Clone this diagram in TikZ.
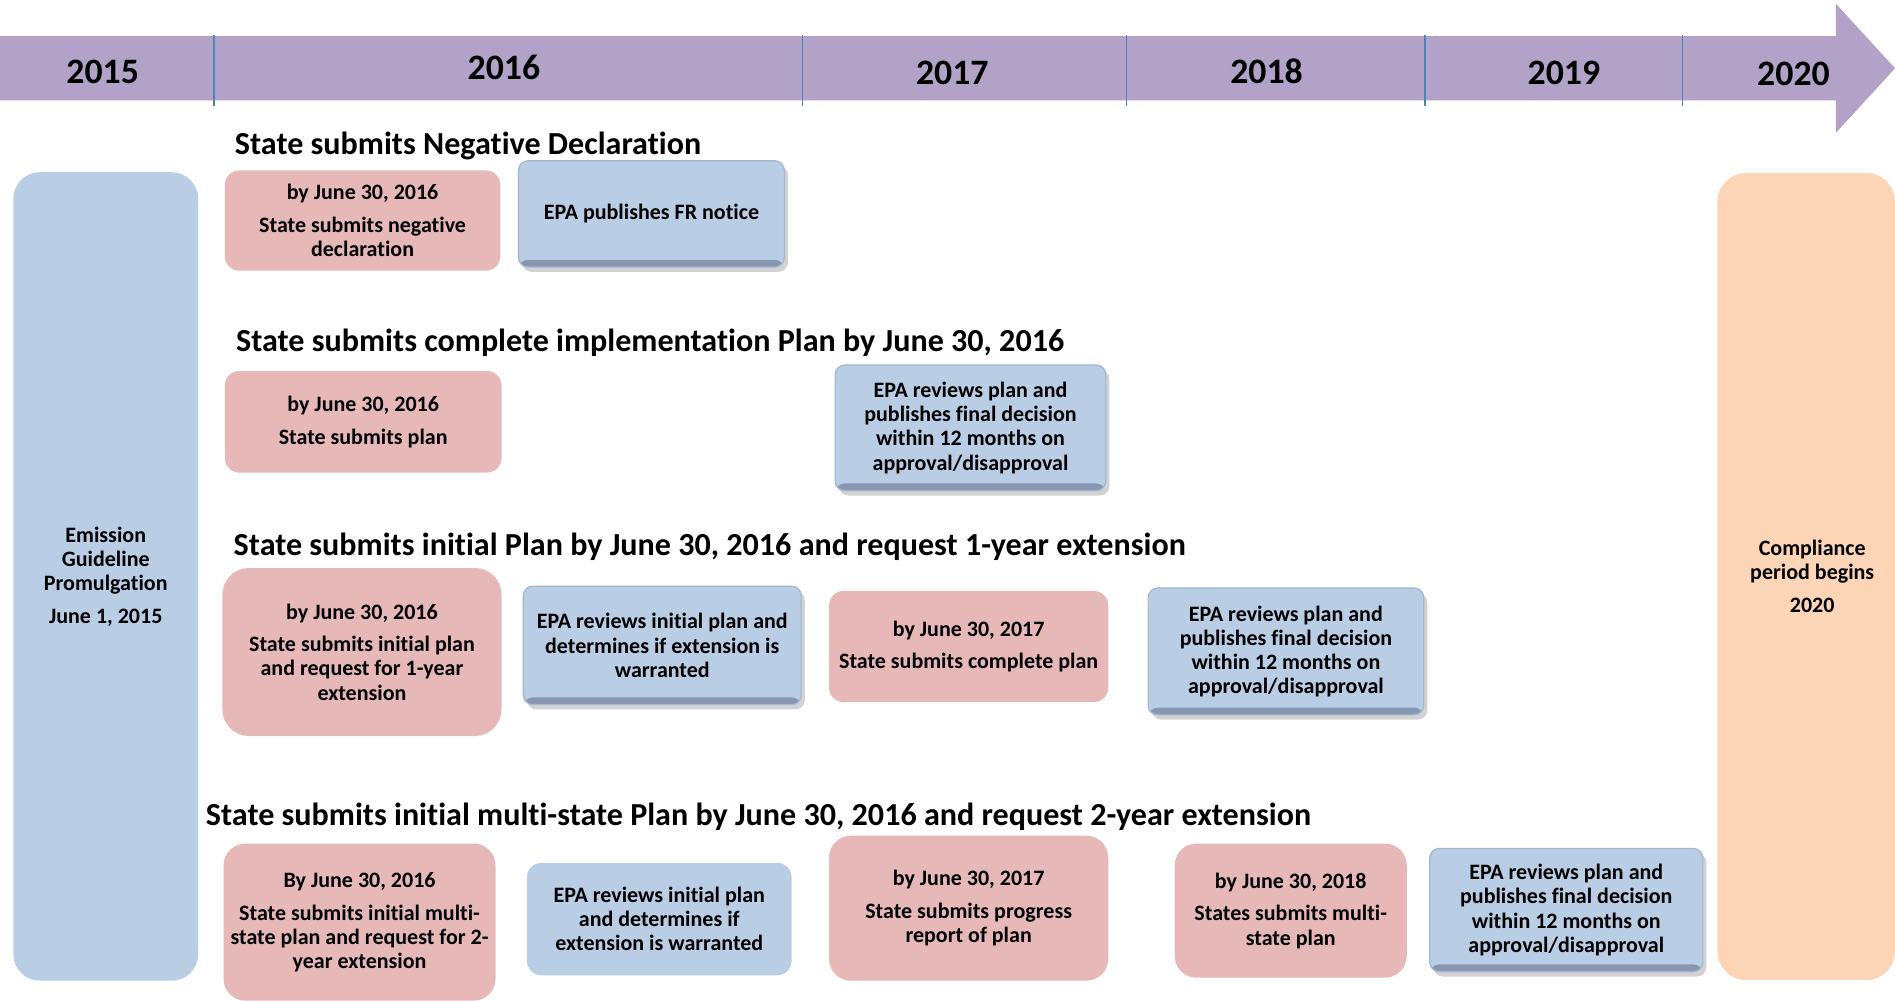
\documentclass[tikz,border=0pt]{standalone}
\usepackage{fontspec}
\setmainfont{Carlito}[Ligatures=NoCommon]
\usetikzlibrary{shadows}
\definecolor{band}{HTML}{B3A2C7}
\definecolor{divider}{HTML}{4F81BD}
\definecolor{pinkfill}{HTML}{E6B9B8}
\definecolor{bluefill}{HTML}{B9CDE5}
\definecolor{bluedark}{HTML}{8797AF}
\definecolor{blueedge}{HTML}{A3B6D0}
\definecolor{peach}{HTML}{FBD5B5}
\begin{document}
\begin{tikzpicture}[x=0.5pt,y=-0.5pt,
  boxtext/.style={font=\fontsize{9.1}{10}\selectfont\bfseries, align=center, inner sep=0pt},
  pinkbox/.style={boxtext, fill=pinkfill, rounded corners=6pt},
  flatblue/.style={boxtext, fill=bluefill, rounded corners=6pt},
  shadeblue/.style={boxtext, fill=bluefill, draw=blueedge, line width=0.5pt, rounded corners=4pt,
    drop shadow={shadow xshift=1.5pt, shadow yshift=-2pt, opacity=0.25, fill=black!70},
    path picture={\fill[bluedark] (path picture bounding box.south west) rectangle ([yshift=3pt]path picture bounding box.south east);}},
  heading/.style={font=\fontsize{13.28}{15}\selectfont\bfseries, inner sep=0pt, anchor=base west},
  year/.style={font=\fontsize{14.8}{16}\selectfont\bfseries, inner sep=0pt, anchor=base},
  divline/.style={draw=divider, line width=0.6pt}
]
\useasboundingbox (0,0) rectangle (1568,828);

% timeline band
\fill[band] (0,30) -- (1519,30) -- (1519,3) -- (1568,56.5) -- (1519,110) -- (1519,83) -- (0,83) -- cycle;
\foreach \x in {177,664,932,1179,1392} {\draw[divline] (\x,29) -- (\x,88);}
\node[year] (y2015) at (85,69) {2015};
\node[year] (y2016) at (417,66) {2016};
\node[year] (y2017) at (788,70) {2017};
\node[year] (y2018) at (1048,69) {2018};
\node[year] (y2019) at (1294,70) {2019};
\node[year] (y2020) at (1484,71) {2020};

% side columns
\node[boxtext, fill=bluefill, rounded corners=11pt, minimum width=76.5pt, minimum height=334.5pt] (left) at (87.5,477)
  {Emission\\Guideline\\Promulgation\\[3.5pt]June 1, 2015};
\node[boxtext, fill=peach, rounded corners=12pt, minimum width=73.5pt, minimum height=334pt] (right) at (1494.5,477)
  {\hspace*{5pt}Compliance\\\hspace*{5pt}period begins\\[3.5pt]\hspace*{5pt}2020};

% headings
\node[heading] (h1) at (194,128) {State submits Negative Declaration};
\node[heading] (h2) at (195,291) {State submits complete implementation Plan by June 30, 2016};
\node[heading] (h3) at (193,460) {State submits initial Plan by June 30, 2016 and request 1-year extension};
\node[heading] (h4) at (170,683) {State submits initial multi-state Plan by June 30, 2016 and request 2-year extension};

% row 1
\node[pinkbox, minimum width=114pt, minimum height=41.5pt] (p1) at (300,182.5)
  {by June 30, 2016\\[3.5pt]State submits negative\\declaration};
\node[shadeblue, minimum width=110pt, minimum height=44pt] (b1) at (539,177)
  {EPA publishes FR notice};

% row 2
\node[pinkbox, minimum width=114.5pt, minimum height=42pt] (p2) at (300.5,349)
  {by June 30, 2016\\[3.5pt]State submits plan};
\node[shadeblue, minimum width=112pt, minimum height=52pt] (b2) at (803,354)
  {EPA reviews plan and\\publishes final decision\\within 12 months on\\approval/disapproval};

% row 3
\node[pinkbox, rounded corners=11pt, minimum width=115.5pt, minimum height=69.5pt] (p3) at (299.5,539.5)
  {by June 30, 2016\\[3.5pt]State submits initial plan\\and request for 1-year\\extension};
\node[shadeblue, minimum width=115pt, minimum height=49pt] (b3) at (548,534)
  {EPA reviews initial plan and\\determines if extension is\\warranted};
\node[pinkbox, minimum width=115.5pt, minimum height=46pt] (p4) at (801.5,535)
  {by June 30, 2017\\[3.5pt]State submits complete plan};
\node[shadeblue, minimum width=114pt, minimum height=52.5pt] (b4) at (1064,539)
  {EPA reviews plan and\\publishes final decision\\within 12 months on\\approval/disapproval};

% row 4
\node[pinkbox, rounded corners=9pt, minimum width=112.5pt, minimum height=65pt] (p5) at (297.5,763)
  {By June 30, 2016\\[3.5pt]State submits initial multi-\\state plan and request for 2-\\year extension};
\node[flatblue, minimum width=109.5pt, minimum height=46.5pt] (b5) at (545.5,760.5)
  {EPA reviews initial plan\\and determines if\\extension is warranted};
\node[pinkbox, rounded corners=9pt, minimum width=115.5pt, minimum height=60pt] (p6) at (801.5,751.5)
  {by June 30, 2017\\[3.5pt]State submits progress\\report of plan};
\node[pinkbox, rounded corners=9pt, minimum width=96pt, minimum height=55.5pt] (p7) at (1068,753.5)
  {by June 30, 2018\\[3.5pt]States submits multi-\\state plan};
\node[shadeblue, minimum width=113pt, minimum height=51pt] (b6) at (1296,753)
  {EPA reviews plan and\\publishes final decision\\within 12 months on\\approval/disapproval};
\end{tikzpicture}
\end{document}
